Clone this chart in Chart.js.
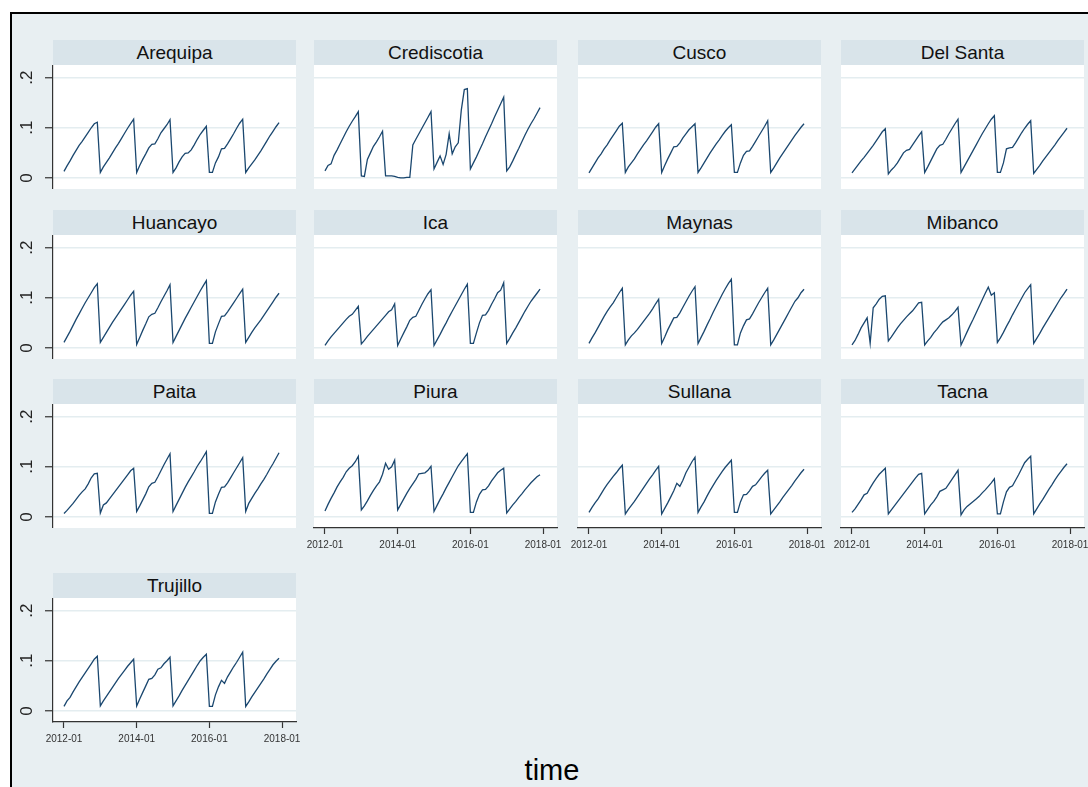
<!DOCTYPE html>
<html><head><meta charset="utf-8">
<script src="https://cdn.jsdelivr.net/npm/chart.js@4.4.1/dist/chart.umd.min.js"></script>
<style>
html,body{margin:0;padding:0;background:#fff;width:1088px;height:787px;overflow:hidden;font-family:"Liberation Sans",Arial,sans-serif;}
#frame{position:absolute;left:10px;top:12px;width:1100px;height:800px;border-left:2px solid #000;border-top:2px solid #000;background:#e8eff2;}
.band{position:absolute;height:25px;width:243px;background:#d9e4ea;color:#111;font-size:19px;line-height:26px;text-align:center;white-space:nowrap;}
canvas{position:absolute;}
#xtitle{position:absolute;left:452px;width:200px;top:755px;font-size:29px;line-height:30px;text-align:center;color:#000;}
</style></head><body>
<div id="frame"></div>
<div id="root"></div>
<div id="xtitle">time</div>
<script>
// ---- categories / ticks ----
const months = [];
for (let y = 2012; y <= 2017; y++) for (let m = 1; m <= 12; m++) months.push(y + '-' + String(m).padStart(2, '0'));
const xTickMonths = [0, 24, 48, 72];
const xTickLabels = ['2012-01', '2014-01', '2016-01', '2018-01'];
const yTickValues = [0, 0.1, 0.2];
const yTickLabels = ['0', '.1', '.2'];

// ---- series (monthly, 2012-01 .. 2017-12) ----
const arequipa = [
0.013,0.024,0.034,0.045,0.055,0.065,0.073,0.082,0.091,0.100,0.108,0.111,
0.011,0.022,0.031,0.040,0.050,0.060,0.069,0.079,0.089,0.099,0.108,0.117,
0.011,0.025,0.037,0.048,0.060,0.067,0.068,0.078,0.090,0.098,0.106,0.116,
0.011,0.020,0.032,0.042,0.049,0.050,0.056,0.066,0.077,0.087,0.095,0.103,
0.011,0.011,0.030,0.042,0.058,0.059,0.068,0.078,0.088,0.099,0.109,0.117,
0.011,0.020,0.028,0.036,0.045,0.054,0.064,0.074,0.084,0.093,0.102,0.110];
const crediscotia = [
0.014,0.025,0.028,0.045,0.056,0.068,0.080,0.092,0.103,0.113,0.122,0.132,
0.004,0.003,0.037,0.050,0.063,0.072,0.082,0.093,0.004,0.004,0.004,0.003,
0.001,0.000,0.000,0.001,0.001,0.066,0.077,0.088,0.099,0.110,0.121,0.132,
0.018,0.031,0.044,0.027,0.047,0.088,0.048,0.062,0.070,0.135,0.176,0.178,
0.018,0.030,0.042,0.055,0.068,0.082,0.095,0.108,0.122,0.135,0.148,0.161,
0.014,0.022,0.034,0.047,0.059,0.072,0.085,0.097,0.108,0.118,0.129,0.140];
const cusco = [
0.010,0.020,0.030,0.040,0.048,0.058,0.066,0.076,0.085,0.094,0.103,0.109,
0.011,0.022,0.030,0.038,0.048,0.057,0.066,0.074,0.083,0.092,0.101,0.108,
0.011,0.025,0.038,0.050,0.062,0.063,0.070,0.080,0.088,0.096,0.102,0.108,
0.011,0.020,0.030,0.040,0.050,0.059,0.068,0.076,0.085,0.093,0.100,0.106,
0.011,0.011,0.030,0.045,0.053,0.054,0.063,0.073,0.083,0.093,0.103,0.114,
0.011,0.020,0.030,0.040,0.049,0.058,0.067,0.076,0.085,0.093,0.101,0.108];
const delSanta = [
0.010,0.018,0.026,0.034,0.041,0.049,0.057,0.065,0.074,0.083,0.092,0.098,
0.008,0.016,0.022,0.030,0.040,0.050,0.055,0.057,0.066,0.075,0.084,0.092,
0.011,0.022,0.034,0.046,0.058,0.065,0.067,0.077,0.088,0.098,0.108,0.117,
0.011,0.022,0.033,0.044,0.055,0.066,0.077,0.088,0.098,0.108,0.117,0.124,
0.011,0.011,0.030,0.058,0.060,0.061,0.070,0.080,0.090,0.099,0.107,0.114,
0.009,0.017,0.025,0.034,0.042,0.050,0.058,0.066,0.075,0.083,0.091,0.099];
const huancayo = [
0.011,0.022,0.033,0.045,0.057,0.068,0.079,0.090,0.100,0.110,0.120,0.128,
0.011,0.021,0.031,0.041,0.051,0.060,0.069,0.078,0.087,0.096,0.105,0.113,
0.007,0.021,0.035,0.048,0.062,0.067,0.069,0.080,0.092,0.103,0.114,0.126,
0.011,0.023,0.035,0.047,0.059,0.070,0.081,0.092,0.103,0.114,0.124,0.134,
0.009,0.009,0.032,0.048,0.063,0.064,0.072,0.081,0.090,0.099,0.108,0.117,
0.011,0.021,0.031,0.040,0.048,0.056,0.065,0.074,0.083,0.092,0.101,0.109];
const ica = [
0.005,0.014,0.022,0.029,0.036,0.043,0.050,0.057,0.063,0.067,0.075,0.083,
0.008,0.015,0.023,0.030,0.037,0.044,0.051,0.058,0.065,0.072,0.076,0.088,
0.005,0.018,0.030,0.042,0.055,0.061,0.063,0.075,0.087,0.098,0.108,0.116,
0.005,0.016,0.027,0.039,0.050,0.062,0.073,0.084,0.095,0.106,0.117,0.127,
0.009,0.009,0.030,0.050,0.065,0.066,0.075,0.087,0.098,0.110,0.115,0.130,
0.009,0.019,0.030,0.040,0.051,0.062,0.073,0.083,0.093,0.101,0.109,0.117];
const maynas = [
0.009,0.020,0.030,0.041,0.052,0.063,0.073,0.082,0.090,0.100,0.110,0.119,
0.006,0.016,0.024,0.030,0.037,0.045,0.053,0.061,0.069,0.078,0.088,0.097,
0.009,0.022,0.036,0.048,0.060,0.061,0.070,0.081,0.092,0.103,0.113,0.122,
0.009,0.021,0.033,0.046,0.058,0.071,0.083,0.095,0.107,0.118,0.128,0.137,
0.006,0.006,0.030,0.044,0.056,0.058,0.068,0.079,0.090,0.100,0.110,0.119,
0.006,0.016,0.027,0.038,0.049,0.060,0.071,0.082,0.093,0.100,0.110,0.117];
const mibanco = [
0.006,0.015,0.027,0.040,0.050,0.060,0.009,0.080,0.088,0.097,0.103,0.104,
0.014,0.022,0.031,0.040,0.048,0.055,0.062,0.068,0.074,0.082,0.090,0.091,
0.006,0.014,0.021,0.030,0.037,0.045,0.052,0.056,0.060,0.066,0.073,0.081,
0.006,0.019,0.032,0.045,0.057,0.070,0.083,0.096,0.109,0.121,0.105,0.110,
0.011,0.020,0.031,0.043,0.054,0.066,0.077,0.088,0.099,0.110,0.118,0.126,
0.009,0.019,0.029,0.040,0.050,0.060,0.070,0.080,0.090,0.100,0.108,0.117];
const paita = [
0.007,0.013,0.020,0.027,0.035,0.043,0.050,0.056,0.066,0.078,0.086,0.087,
0.008,0.024,0.028,0.036,0.044,0.052,0.060,0.068,0.076,0.084,0.092,0.097,
0.011,0.022,0.034,0.046,0.060,0.067,0.069,0.080,0.092,0.104,0.115,0.126,
0.011,0.023,0.035,0.047,0.059,0.070,0.080,0.090,0.101,0.110,0.120,0.130,
0.007,0.007,0.030,0.045,0.059,0.060,0.068,0.078,0.088,0.098,0.108,0.118,
0.011,0.027,0.037,0.047,0.056,0.066,0.075,0.085,0.096,0.106,0.117,0.128];
const piura = [
0.012,0.025,0.037,0.048,0.060,0.070,0.079,0.090,0.097,0.102,0.110,0.121,
0.014,0.022,0.032,0.043,0.053,0.062,0.070,0.085,0.107,0.095,0.100,0.113,
0.014,0.025,0.036,0.047,0.057,0.066,0.075,0.086,0.087,0.088,0.093,0.101,
0.011,0.023,0.035,0.046,0.058,0.069,0.080,0.091,0.102,0.110,0.118,0.126,
0.009,0.009,0.030,0.045,0.054,0.055,0.062,0.072,0.080,0.088,0.093,0.097,
0.008,0.016,0.024,0.031,0.039,0.046,0.054,0.061,0.068,0.074,0.080,0.084];
const sullana = [
0.009,0.019,0.028,0.036,0.046,0.056,0.065,0.073,0.081,0.088,0.096,0.103,
0.006,0.015,0.023,0.031,0.040,0.049,0.058,0.067,0.076,0.084,0.093,0.101,
0.006,0.017,0.028,0.040,0.052,0.067,0.061,0.073,0.088,0.099,0.110,0.119,
0.009,0.020,0.030,0.042,0.053,0.063,0.073,0.082,0.091,0.099,0.106,0.113,
0.009,0.009,0.030,0.044,0.045,0.052,0.061,0.064,0.072,0.080,0.087,0.093,
0.006,0.014,0.022,0.030,0.039,0.047,0.055,0.063,0.072,0.080,0.088,0.095];
const tacna = [
0.009,0.016,0.025,0.034,0.044,0.047,0.058,0.068,0.077,0.085,0.091,0.097,
0.006,0.014,0.022,0.030,0.038,0.046,0.054,0.062,0.070,0.078,0.085,0.087,
0.006,0.015,0.024,0.031,0.040,0.051,0.054,0.057,0.066,0.075,0.084,0.093,
0.004,0.014,0.021,0.026,0.031,0.036,0.041,0.048,0.054,0.061,0.068,0.076,
0.006,0.006,0.030,0.050,0.059,0.062,0.073,0.084,0.096,0.108,0.115,0.121,
0.006,0.016,0.026,0.035,0.045,0.055,0.064,0.074,0.083,0.091,0.099,0.106];
const trujillo = [
0.009,0.020,0.027,0.038,0.048,0.058,0.067,0.076,0.085,0.094,0.103,0.109,
0.010,0.020,0.029,0.038,0.047,0.056,0.065,0.073,0.081,0.089,0.096,0.103,
0.010,0.024,0.037,0.050,0.063,0.065,0.072,0.083,0.086,0.094,0.100,0.107,
0.010,0.020,0.030,0.041,0.051,0.061,0.071,0.081,0.091,0.100,0.107,0.113,
0.009,0.009,0.032,0.048,0.061,0.055,0.068,0.078,0.088,0.097,0.107,0.117,
0.009,0.018,0.028,0.037,0.046,0.055,0.064,0.074,0.083,0.092,0.099,0.105];

const panelNames = ['Arequipa','Crediscotia','Cusco','Del Santa','Huancayo','Ica','Maynas','Mibanco','Paita','Piura','Sullana','Tacna','Trujillo'];
const panelSeries = [arequipa, crediscotia, cusco, delSanta, huancayo, ica, maynas, mibanco, paita, piura, sullana, tacna, trujillo];
const panelsWithXAxis = ['Piura','Sullana','Tacna','Trujillo'];

// ---- layout ----
const colLeft = [53, 314, 578, 841];
const bandTop = [40, 210, 379, 573];
const PW = 243, PH = 124, BH = 25;
const FONT = '"Liberation Sans", Arial, sans-serif';
const LINE = '#1a476f', GRID = '#e4edf0', AXIS = '#333333';

const bgPlugin = {
  id: 'plotbg',
  beforeDraw(chart) {
    const {ctx, chartArea: a} = chart;
    ctx.save(); ctx.fillStyle = '#ffffff';
    ctx.fillRect(a.left, a.top, a.right - a.left, a.bottom - a.top);
    ctx.restore();
  }
};

const root = document.getElementById('root');
panelNames.forEach((name, i) => {
  const r = Math.floor(i / 4), c = i % 4;
  const hasY = c === 0, hasX = panelsWithXAxis.includes(name);
  const PAD = 16;
  const yW = hasY ? 42 : 0, xH = hasX ? 32 : 0;
  const padL = hasY ? 0 : PAD;
  const band = document.createElement('div');
  band.className = 'band';
  band.style.left = colLeft[c] + 'px';
  band.style.top = bandTop[r] + 'px';
  band.textContent = name;
  root.appendChild(band);

  const cv = document.createElement('canvas');
  const w = yW + padL + PW + PAD, h = PH + xH;
  cv.width = w; cv.height = h;
  cv.style.width = w + 'px'; cv.style.height = h + 'px';
  cv.style.left = (colLeft[c] - yW - padL) + 'px';
  cv.style.top = (bandTop[r] + BH) + 'px';
  root.appendChild(cv);

  new Chart(cv, {
    type: 'line',
    data: { datasets: [{
      data: panelSeries[i].map((v, k) => ({x: k, y: v})),
      borderColor: LINE, borderWidth: 1.3, pointRadius: 0, tension: 0, fill: false
    }]},
    options: {
      responsive: false, animation: false, devicePixelRatio: 1,
      layout: { padding: {left: padL, right: PAD, top: 0, bottom: 0}, autoPadding: false },
      plugins: { legend: {display: false}, tooltip: {enabled: false} },
      scales: {
        x: {
          type: 'linear', min: -3.63, max: 76.6, display: hasX,
          afterBuildTicks: s => { s.ticks = xTickMonths.map(v => ({value: v})); },
          afterFit: s => { s.height = xH; s.paddingLeft = 0; s.paddingRight = 0; },
          grid: {drawOnChartArea: false, drawTicks: true, tickLength: 6, tickColor: AXIS, tickWidth: 1.2},
          border: {display: true, color: AXIS, width: 1.2},
          ticks: {autoSkip: false, maxRotation: 0, minRotation: 0, padding: 5, color: '#333',
                  font: {family: FONT, size: 10},
                  callback: v => xTickLabels[xTickMonths.indexOf(v)]}
        },
        y: {
          type: 'linear', min: -0.022, max: 0.225,
          afterBuildTicks: s => { s.ticks = yTickValues.map(v => ({value: v})); },
          afterFit: s => { s.width = yW; s.paddingTop = 0; s.paddingBottom = 0; },
          grid: {color: GRID, lineWidth: 1.5, drawTicks: hasY, tickLength: 8, tickColor: AXIS, tickWidth: 1.2},
          border: {display: hasY, color: AXIS, width: 1.2},
          ticks: {display: hasY, minRotation: 90, maxRotation: 90, crossAlign: 'center', padding: 11,
                  color: '#222', font: {family: FONT, size: 17},
                  callback: v => yTickLabels[yTickValues.indexOf(v)]}
        }
      }
    },
    plugins: [bgPlugin]
  });
});
</script>
</body></html>
